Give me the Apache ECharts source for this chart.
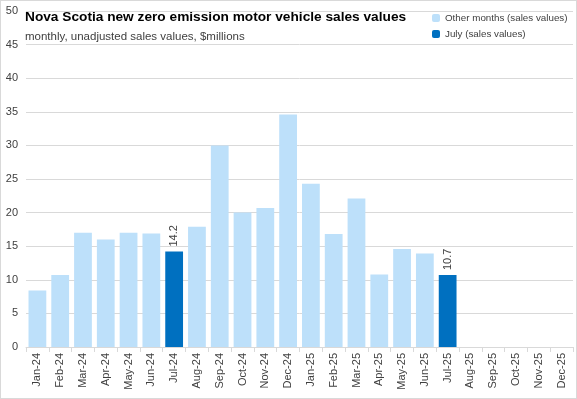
<!DOCTYPE html>
<html>
<head>
<meta charset="utf-8">
<script src="https://cdn.jsdelivr.net/npm/echarts@6/dist/echarts.min.js"></script>
<style>
  html, body { margin: 0; padding: 0; background: #fff; }
  #chart { width: 575px; height: 397px; border: 1px solid #d9d9d9; }
</style>
</head>
<body>
<div id="chart"></div>
<script>
// months shown on the x axis
var months = ['Jan-24','Feb-24','Mar-24','Apr-24','May-24','Jun-24','Jul-24','Aug-24','Sep-24','Oct-24','Nov-24','Dec-24',
              'Jan-25','Feb-25','Mar-25','Apr-25','May-25','Jun-25','Jul-25','Aug-25','Sep-25','Oct-25','Nov-25','Dec-25'];
// sales values, $millions (null = not shown in that series)
var otherMonths = [8.4, 10.7, 17.0, 16.0, 17.0, 16.9, null, 17.9, 30.0, 20.0, 20.7, 34.6,
                   24.3, 16.8, 22.1, 10.8, 14.6, 13.9, null, null, null, null, null, null];
var julyValues = [null, null, null, null, null, null, 14.2, null, null, null, null, null,
                  null, null, null, null, null, null, 10.7, null, null, null, null, null];

var chart = echarts.init(document.getElementById('chart'));
var font = "'Liberation Sans', Arial, sans-serif";

chart.setOption({
  animation: false,
  textStyle: { fontFamily: font },
  title: {
    text: 'Nova Scotia new zero emission motor vehicle sales values',
    subtext: 'monthly, unadjusted sales values, $millions',
    left: 19, top: 4,
    itemGap: 7,
    textStyle: { fontFamily: font, fontSize: 13.7, fontWeight: 'bold', color: '#000' },
    subtextStyle: { fontFamily: font, fontSize: 11.5, color: '#404040' }
  },
  legend: {
    orient: 'vertical',
    left: 426, top: 7,
    itemWidth: 8, itemHeight: 8,
    itemGap: 6,
    textStyle: { fontFamily: font, fontSize: 9.8, color: '#404040' },
    data: ['Other months (sales values)', 'July (sales values)']
  },
  grid: { left: 25, right: 3, top: 10, bottom: 51, containLabel: false },
  xAxis: {
    type: 'category',
    data: months,
    axisLine: { lineStyle: { color: '#d9d9d9' } },
    axisTick: { show: true, length: 5, lineStyle: { color: '#d9d9d9' } },
    axisLabel: { rotate: 90, fontSize: 11, color: '#404040', margin: 6, interval: 0 }
  },
  yAxis: {
    type: 'value',
    min: 0, max: 50, interval: 5,
    axisLine: { show: false },
    axisTick: { show: false },
    axisLabel: { fontSize: 11, color: '#404040', margin: 8 },
    splitLine: { lineStyle: { color: '#d9d9d9' } }
  },
  series: [
    {
      name: 'Other months (sales values)',
      type: 'bar',
      data: otherMonths,
      barCategoryGap: '22%',
      itemStyle: { color: '#BDE0FA' }
    },
    {
      name: 'July (sales values)',
      type: 'bar',
      data: julyValues,
      barGap: '-100%',
      itemStyle: { color: '#0070C0' },
      label: {
        show: true,
        position: 'top',
        rotate: 90,
        align: 'left',
        verticalAlign: 'middle',
        distance: 5,
        fontSize: 11,
        color: '#404040',
        formatter: function (p) { return p.value.toFixed(1); }
      }
    }
  ]
});
</script>
</body>
</html>
